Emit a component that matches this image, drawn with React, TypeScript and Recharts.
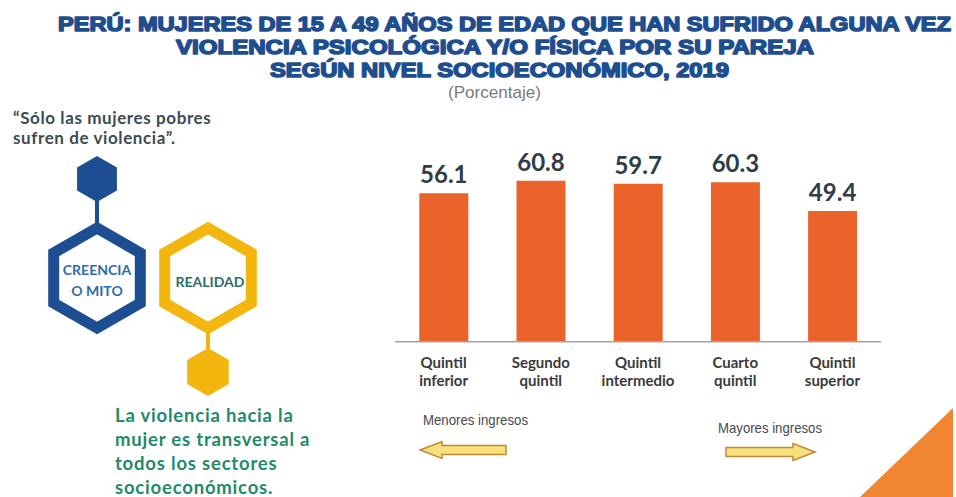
import React from "react";
import { BarChart, Bar, XAxis, YAxis, LabelList } from "recharts";

const categories = [
  "Quintil inferior",
  "Segundo quintil",
  "Quintil intermedio",
  "Cuarto quintil",
  "Quintil superior",
];
const values = [56.1, 60.8, 59.7, 60.3, 49.4];
const titleLines = [
  "PERÚ: MUJERES DE 15 A 49 AÑOS DE EDAD QUE HAN SUFRIDO ALGUNA VEZ",
  "VIOLENCIA PSICOLÓGICA Y/O FÍSICA POR SU PAREJA",
  "SEGÚN NIVEL SOCIOECONÓMICO, 2019",
];
const subtitle = "(Porcentaje)";
const mythLines = ["“Sólo las mujeres pobres", "sufren de violencia”."];
const realityLines = [
  "La violencia hacia la",
  "mujer es transversal a",
  "todos los sectores",
  "socioeconómicos.",
];
const leftArrowLabel = "Menores ingresos";
const rightArrowLabel = "Mayores ingresos";

const data = categories.map((c, i) => ({ name: c, value: values[i] }));

const BAR_COLOR = "#e9632b";
const TITLE_COLOR = "#1f4e8f";
const BLUE = "#1d4e92";
const YELLOW = "#f3b60e";
const LATO = "Lato, 'Open Sans', sans-serif";

function hexPoints(cx: number, cy: number, r: number) {
  const pts: string[] = [];
  for (let i = 0; i < 6; i++) {
    const a = (Math.PI / 180) * (60 * i - 90);
    pts.push(`${cx + r * Math.cos(a)},${cy + r * Math.sin(a)}`);
  }
  return pts.join(" ");
}

function arrowPath(tipX: number, tailX: number, cy: number, headLen: number, headH: number, shaftH: number) {
  const dir = tailX > tipX ? 1 : -1;
  const baseX = tipX + dir * headLen;
  return `M${tipX},${cy} L${baseX},${cy - headH} L${baseX},${cy - shaftH} L${tailX},${cy - shaftH} L${tailX},${cy + shaftH} L${baseX},${cy + shaftH} L${baseX},${cy + headH} Z`;
}

const CategoryTick = (props: any) => {
  const { x, y, payload } = props;
  const parts = String(payload.value).split(" ");
  return (
    <text
      x={x}
      y={y}
      textAnchor="middle"
      fontFamily={LATO}
      fontWeight={700}
      fontSize={15}
      fill="#3a3a3a"
    >
      <tspan x={x} y={y + 26}>{parts[0]}</tspan>
      <tspan x={x} y={y + 44}>{parts.slice(1).join(" ")}</tspan>
    </text>
  );
};

const ValueLabel = (props: any) => {
  const { x, y, width, value } = props;
  return (
    <text
      x={x + width / 2}
      y={y - 10}
      textAnchor="middle"
      fontFamily={LATO}
      fontWeight={700}
      fontSize={24}
      fill="#2f3d46"
    >
      {Number(value).toFixed(1)}
    </text>
  );
};

const titleProps = {
  fontFamily: "'Liberation Sans', Arial, sans-serif",
  fontWeight: 700,
  fontSize: 21,
  fill: TITLE_COLOR,
  stroke: TITLE_COLOR,
  strokeWidth: 1.6,
  strokeLinejoin: "round" as const,
  lengthAdjust: "spacingAndGlyphs",
};

export default function App() {
  return (
    <div
      style={{
        position: "absolute",
        left: 0,
        top: 0,
        width: 956,
        height: 497,
        background: "#ffffff",
        overflow: "hidden",
      }}
    >
      <svg
        width={956}
        height={497}
        style={{ position: "absolute", left: 0, top: 0 }}
      >
        {/* Title */}
        <text x={58} y={31} textLength={893} {...titleProps}>
          {titleLines[0]}
        </text>
        <text x={176} y={54} textLength={638} {...titleProps}>
          {titleLines[1]}
        </text>
        <text x={270} y={77} textLength={459} {...titleProps}>
          {titleLines[2]}
        </text>
        <text
          x={448}
          y={98}
          textLength={93}
          lengthAdjust="spacingAndGlyphs"
          fontFamily="'Liberation Sans', Arial, sans-serif"
          fontSize={16}
          fill="#7a7a7a"
        >
          {subtitle}
        </text>

        {/* Myth quote */}
        {mythLines.map((t, i) => (
          <text
            key={t}
            x={13}
            y={124 + i * 20}
            fontFamily={LATO}
            fontWeight={700}
            fontSize={17}
            letterSpacing={0.6}
            fill="#3d4b52"
          >
            {t}
          </text>
        ))}

        {/* Blue hexagons */}
        <line x1={97} y1={198} x2={97} y2={228} stroke={BLUE} strokeWidth={4} />
        <polygon points={hexPoints(97, 179, 23)} fill={BLUE} />
        <polygon
          points={hexPoints(97, 278, 50)}
          fill="#ffffff"
          stroke={BLUE}
          strokeWidth={11}
          strokeLinejoin="miter"
        />
        <text
          x={97}
          y={275}
          textAnchor="middle"
          fontFamily={LATO}
          fontWeight={700}
          fontSize={14}
          fill="#2f6ca8"
        >
          CREENCIA
        </text>
        <text
          x={97}
          y={296}
          textAnchor="middle"
          fontFamily={LATO}
          fontWeight={700}
          fontSize={14}
          fill="#2f6ca8"
        >
          O MITO
        </text>

        {/* Yellow hexagons */}
        <line x1={208} y1={326} x2={208} y2={352} stroke={YELLOW} strokeWidth={4} />
        <polygon
          points={hexPoints(208, 278, 50)}
          fill="#ffffff"
          stroke={YELLOW}
          strokeWidth={11}
          strokeLinejoin="miter"
        />
        <polygon points={hexPoints(208, 372, 24)} fill={YELLOW} />
        <text
          x={210}
          y={287}
          textAnchor="middle"
          fontFamily={LATO}
          fontWeight={700}
          fontSize={14}
          fill="#2e6e68"
        >
          REALIDAD
        </text>

        {/* Reality text */}
        {realityLines.map((t, i) => (
          <text
            key={t}
            x={115}
            y={422 + i * 24}
            fontFamily={LATO}
            fontWeight={700}
            fontSize={18.5}
            letterSpacing={0.8}
            fill="#238a69"
          >
            {t}
          </text>
        ))}

        {/* Arrows */}
        <text
          x={423}
          y={425}
          textLength={105}
          lengthAdjust="spacingAndGlyphs"
          fontFamily="'Liberation Sans', Arial, sans-serif"
          fontSize={15}
          fill="#4a4a4a"
        >
          {leftArrowLabel}
        </text>
        <path
          d={arrowPath(420, 506, 450, 22, 8.5, 4.5)}
          fill="#f8e17a"
          stroke="#c08a3a"
          strokeWidth={1.5}
        />
        <text
          x={718}
          y={433}
          textLength={104}
          lengthAdjust="spacingAndGlyphs"
          fontFamily="'Liberation Sans', Arial, sans-serif"
          fontSize={15}
          fill="#4a4a4a"
        >
          {rightArrowLabel}
        </text>
        <path
          d={arrowPath(815, 726, 452, 22, 8.5, 4.5)}
          fill="#f8e17a"
          stroke="#c08a3a"
          strokeWidth={1.5}
        />

        {/* Corner triangle */}
        <polygon points="953,408 953,497 860,497" fill="#f08632" />
      </svg>

      <div style={{ position: "absolute", left: 0, top: 0 }}>
        <BarChart
          width={956}
          height={497}
          data={data}
          margin={{ top: 156.5, right: 75, bottom: 95.3, left: 395 }}
          barCategoryGap="25%"
        >
          <XAxis
            dataKey="name"
            height={60}
            tickLine={false}
            tickSize={0}
            tickMargin={0}
            axisLine={{ stroke: "#a3a3a3", strokeWidth: 1.5 }}
            tick={<CategoryTick />}
            interval={0}
          />
          <YAxis hide domain={[0, 70]} />
          <Bar dataKey="value" fill={BAR_COLOR} isAnimationActive={false}>
            <LabelList dataKey="value" content={<ValueLabel />} />
          </Bar>
        </BarChart>
      </div>
    </div>
  );
}
